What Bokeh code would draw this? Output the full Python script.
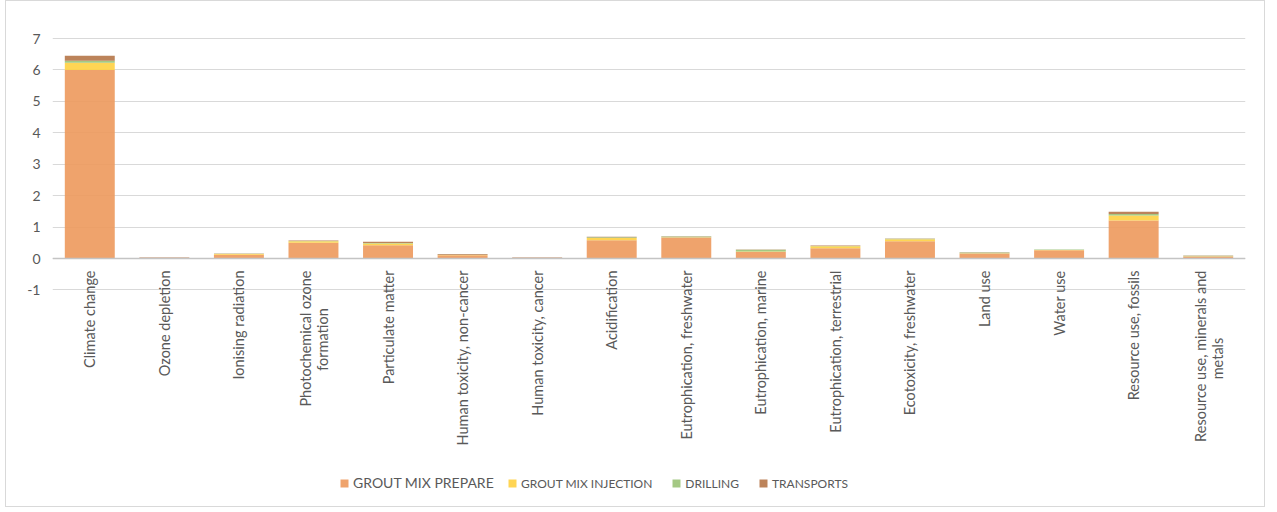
import math
from bokeh.plotting import figure
from bokeh.models import ColumnDataSource, FixedTicker, Legend, LegendItem, Span, Range1d, FactorRange
from bokeh.core.properties import value
from bokeh.embed import file_html
from bokeh.resources import INLINE

# ---------------- data ----------------
categories = [
    "Climate change", "Ozone depletion", "Ionising radiation",
    "Photochemical ozone formation", "Particulate matter",
    "Human toxicity, non-cancer", "Human toxicity, cancer", "Acidification",
    "Eutrophication, freshwater", "Eutrophication, marine",
    "Eutrophication, terrestrial", "Ecotoxicity, freshwater", "Land use",
    "Water use", "Resource use, fossils", "Resource use, minerals and metals",
]
label_line1 = [
    "Climate change", "Ozone depletion", "Ionising radiation",
    "Photochemical ozone", "Particulate matter",
    "Human toxicity, non-cancer", "Human toxicity, cancer", "Acidification",
    "Eutrophication, freshwater", "Eutrophication, marine",
    "Eutrophication, terrestrial", "Ecotoxicity, freshwater", "Land use",
    "Water use", "Resource use, fossils", "Resource use, minerals and",
]
label_line2 = ["", "", "", "formation", "", "", "", "", "", "", "", "", "", "", "", "metals"]

grout_mix_prepare   = [6.00, 0.010, 0.12, 0.50, 0.42, 0.10, 0.010, 0.58, 0.67, 0.21, 0.33, 0.55, 0.16, 0.26, 1.21, 0.060]
grout_mix_injection = [0.23, 0.005, 0.02, 0.05, 0.06, 0.01, 0.005, 0.07, 0.01, 0.01, 0.06, 0.06, 0.01, 0.01, 0.16, 0.015]
drilling            = [0.06, 0.005, 0.01, 0.01, 0.01, 0.01, 0.005, 0.03, 0.02, 0.06, 0.01, 0.015, 0.02, 0.02, 0.05, 0.010]
transports          = [0.16, 0.010, 0.01, 0.01, 0.04, 0.02, 0.015, 0.01, 0.01, 0.01, 0.01, 0.015, 0.01, 0.00, 0.07, 0.010]

series_names = ["GROUT MIX PREPARE", "GROUT MIX INJECTION", "DRILLING", "TRANSPORTS"]
y_ticks = [-1, 0, 1, 2, 3, 4, 5, 6, 7]
y_tick_labels = ["-1", "0", "1", "2", "3", "4", "5", "6", "7"]

# ---------------- style / layout ----------------
colors = ["#EE9B60", "#FFD145", "#9CC37A", "#B6784C"]
TEXT = "#595959"
FONT = "Lato"
W, H = 1260, 507
PX_PER_UNIT = 31.43
FRAME_TOP, FRAME_BOTTOM_BORDER = 35, 0
frame_h = H - FRAME_TOP - FRAME_BOTTOM_BORDER
y_max = 7 + 2 / PX_PER_UNIT
y_min = y_max - frame_h / PX_PER_UNIT
px = 1.0 / PX_PER_UNIT
LINE2_CENTER_PX = {"formation": 81, "metals": 100}

p = figure(
    x_range=FactorRange(*categories, range_padding=0),
    y_range=Range1d(y_min, y_max),
    width=W, height=H,
    output_backend="svg", toolbar_location=None,
    x_axis_location=None,
    min_border_top=FRAME_TOP, min_border_left=46, min_border_right=21,
    min_border_bottom=FRAME_BOTTOM_BORDER,
    styles={"border": "1px solid #D9D9D9", "margin-left": "5px"},
)
p.outline_line_color = None
p.xgrid.grid_line_color = None
p.ygrid.ticker = FixedTicker(ticks=y_ticks)
p.ygrid.grid_line_color = "#D9D9D9"
p.ygrid.grid_line_width = 1

ax = p.yaxis[0]
ax.ticker = FixedTicker(ticks=y_ticks)
ax.major_label_overrides = {t: l for t, l in zip(y_ticks, y_tick_labels)}
ax.axis_line_color = None
ax.major_tick_line_color = None
ax.minor_tick_line_color = None
ax.major_tick_out = 0
ax.major_label_standoff = 12
ax.major_label_text_color = TEXT
ax.major_label_text_font = FONT
ax.major_label_text_font_size = "14px"

src = ColumnDataSource(dict(
    cat=categories,
    prepare=grout_mix_prepare,
    injection=grout_mix_injection,
    drilling=drilling,
    transports=transports,
))
keys = ["prepare", "injection", "drilling", "transports"]
rends = p.vbar_stack(keys, x="cat", source=src, width=0.67,
                     fill_color=colors, fill_alpha=0.92, line_color=None)

p.add_layout(Span(location=0, dimension="width", line_color="#C4C4C4", line_width=1.5))

# category labels (rotated)
line1_off = [(-8 if l2 else 0) for l2 in label_line2]
lab1 = ColumnDataSource(dict(x=categories, y=[-12 * px] * len(categories), t=label_line1, xo=line1_off))
p.text(x="x", y="y", text="t", x_offset="xo", source=lab1, angle=math.pi / 2,
       text_align="right", text_baseline="middle", text_color=TEXT,
       text_font=value(FONT), text_font_size="14.5px")
two = [i for i, l in enumerate(label_line2) if l]
lab2 = ColumnDataSource(dict(
    x=[categories[i] for i in two],
    y=[-LINE2_CENTER_PX[label_line2[i]] * px for i in two],
    t=[label_line2[i] for i in two],
))
p.text(x="x", y="y", text="t", x_offset=9, source=lab2, angle=math.pi / 2,
       text_align="center", text_baseline="middle", text_color=TEXT,
       text_font=value(FONT), text_font_size="14.5px")

# legends
leg1 = Legend(items=[LegendItem(label=series_names[0], renderers=[rends[0]])],
              orientation="horizontal", location=(287, 17),
              glyph_width=10, glyph_height=10, label_height=16, label_standoff=4,
              padding=0, margin=0, spacing=0, border_line_color=None,
              background_fill_alpha=0, label_text_color=TEXT,
              label_text_font=FONT, label_text_font_size="14px")
leg2 = Legend(items=[LegendItem(label=series_names[i], renderers=[rends[i]]) for i in range(1, 4)],
              orientation="horizontal", location=(455, 17),
              glyph_width=10, glyph_height=10, label_height=16, label_standoff=4,
              padding=0, margin=0, spacing=19, border_line_color=None,
              background_fill_alpha=0, label_text_color=TEXT,
              label_text_font=FONT, label_text_font_size="12px")
p.add_layout(leg1)
p.add_layout(leg2)

open("out.html", "w").write(file_html(p, INLINE))
